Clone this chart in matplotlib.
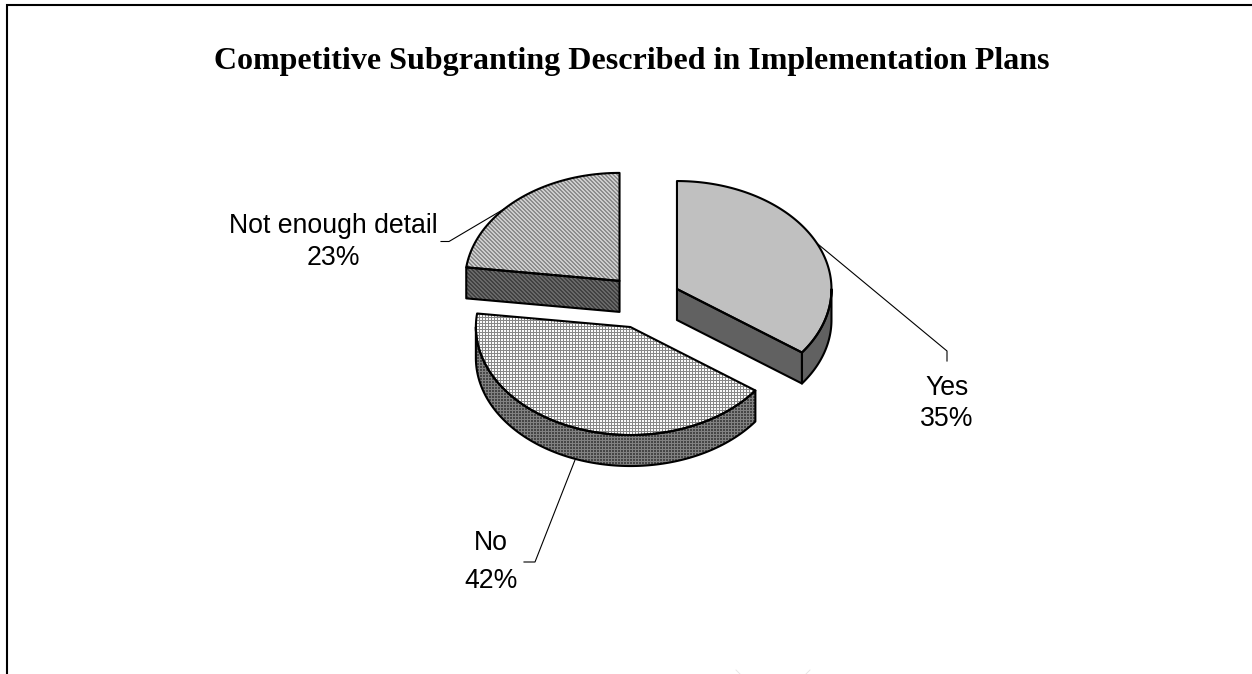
import numpy as np
import matplotlib
matplotlib.use("Agg")
import matplotlib.pyplot as plt
from matplotlib.patches import Polygon

# ----- DATA -----
title = "Competitive Subgranting Described in Implementation Plans"
categories = ["Yes", "No", "Not enough detail"]
shares = [35, 42, 23]

# ----- PIE GEOMETRY (pixels) -----
W, H = 1252, 674
CX, CY = 644, 301.5
RX, RY = 154.5, 108
DEPTH = 31
EXPLODE = 37
SQUASH = 0.742
EDGE = 1.5

# label centre lines: x, y of the name, y of the percent
label_pos = [(947, 388, 419), (491, 543, 581), (333, 226, 258)]
leaders = [
    [(813, 240), (947, 351), (947, 361)],
    [(575, 460), (535, 562), (524, 562)],
    [(504, 209), (449, 241.5), (441, 241.5)],
]


def diagonal(light, dark):
    xx, yy = np.meshgrid(np.arange(W), np.arange(H))
    return np.where((xx - yy) % 4 < 2, light, dark)


def grid(light, dark):
    xx, yy = np.meshgrid(np.arange(W), np.arange(H))
    mask = (xx % 3 == 2) | (yy % 3 == 2)
    return np.where(mask, dark, light)


def solid(level):
    return np.full((H, W), level)


top_fill = [solid(192), grid(250, 135), diagonal(205, 140)]
side_fill = [solid(98), grid(70, 130), diagonal(105, 65)]


def rim(cx, cy, a0, a1, dy=0.0):
    t = np.radians(np.linspace(a0, a1, max(int(abs(a1 - a0)) * 2, 2)))
    return np.column_stack([cx + RX * np.sin(t), cy - RY * np.cos(t) + dy])


def draw_poly(ax, pts, fill):
    im = ax.imshow(fill, cmap="gray", vmin=0, vmax=255, interpolation="nearest",
                   extent=(0, W, H, 0), aspect="auto", zorder=2)
    patch = Polygon(pts, closed=True, facecolor="none", edgecolor="black",
                    linewidth=EDGE, joinstyle="round", zorder=3)
    ax.add_patch(patch)
    im.set_clip_path(patch)


fig = plt.figure(figsize=(W / 100, H / 100), dpi=100, facecolor="white")
ax = fig.add_axes([0, 0, 1, 1])
ax.set_xlim(0, W)
ax.set_ylim(H, 0)
ax.axis("off")

# frame: top and left only
ax.plot([7, 7, W], [H, 5, 5], color="black", lw=1.5, solid_joinstyle="miter")
ax.plot([736, 740], [670, 674], color="#e6e6e6", lw=0.7)
ax.plot([810, 806], [670, 674], color="#e6e6e6", lw=0.7)

# ----- SLICES -----
start = 0.0
for share, top, side in zip(shares, top_fill, side_fill):
    end = start + share / sum(shares) * 360
    mid = np.radians((start + end) / 2)
    cx = CX + EXPLODE * np.sin(mid)
    cy = CY - EXPLODE * SQUASH * np.cos(mid)

    # outer wall, only the part that faces the viewer
    a0, a1 = max(start, 90), min(end, 270)
    if a1 > a0:
        upper = rim(cx, cy, a0, a1)
        lower = rim(cx, cy, a1, a0, DEPTH)
        draw_poly(ax, np.vstack([upper, lower]), side)

    # cut faces along the radii
    for ang, visible in ((start, 180 < start < 360), (end, 0 < end < 180)):
        if visible:
            edge = rim(cx, cy, ang, ang + 0.01)[0]
            face = [(cx, cy), edge, (edge[0], edge[1] + DEPTH), (cx, cy + DEPTH)]
            draw_poly(ax, face, side)

    draw_poly(ax, np.vstack([[(cx, cy)], rim(cx, cy, start, end)]), top)
    start = end

# ----- LABELS -----
for name, share, (x, y1, y2), path in zip(categories, shares, label_pos, leaders):
    xs, ys = zip(*path)
    ax.plot(xs, ys, color="black", lw=0.8, zorder=1)
    ax.text(x, y1, name, ha="center", va="center", fontsize=19.2,
            family="Liberation Sans", color="black")
    ax.text(x, y2, f"{share}%", ha="center", va="center", fontsize=19.2,
            family="Liberation Sans", color="black")

ax.text(632, 61, title, ha="center", va="center", fontsize=23,
        family="Liberation Serif", fontweight="bold", color="black")

plt.savefig("out.png", dpi=100)
